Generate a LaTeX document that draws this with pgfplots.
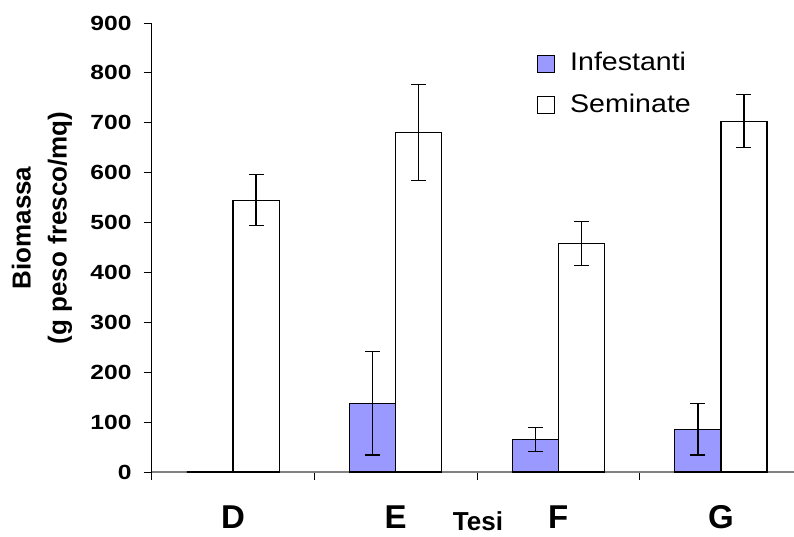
\documentclass[border=0pt]{standalone}
\usepackage{pgfplots}
\pgfplotsset{compat=1.18}
\usepackage{fontspec}
\setmainfont{Liberation Sans}
\newfontfamily\tickfont[FakeStretch=1.2]{Liberation Sans}
\newfontfamily\legfont[FakeStretch=1.12]{Liberation Sans}
\definecolor{infcol}{HTML}{9999FF}
\definecolor{axgray}{HTML}{808080}
\begin{document}
\begin{tikzpicture}
\begin{axis}[
  at={(0pt,0pt)}, anchor=south west,
  scale only axis, width=642.3pt, height=449pt,
  xmin=-0.5, xmax=3.449, ymin=0, ymax=900,
  axis x line*=bottom, axis y line*=left,
  axis line style={-},
  x axis line style={draw=axgray, line width=1.2pt},
  y axis line style={draw=black, line width=0.8pt},
  tick align=outside,
  major tick length=8pt,
  tick style={black, line width=0.8pt},
  ytick={0,100,...,900},
  /pgf/number format/assume math mode=true,
  y tick label style={font=\tickfont\bfseries\fontsize{20.5}{20.5}\selectfont, inner sep=2pt, xshift=-10pt},
  xtick={-0.5,0.5,1.5,2.5},
  xticklabels={,,,},
  extra x ticks={0,1,2,3},
  extra x tick labels={D,E,F,G},
  extra x tick style={tick style={draw=none},
     xticklabel style={font=\bfseries\fontsize{33}{33}\selectfont, anchor=base, inner sep=0pt, yshift=-48.5pt}},
  ylabel={Biomassa\\(g peso fresco/mq)},
  ylabel style={at={(axis description cs:-0.1708,0.5434)}, anchor=center,
     align=center, font=\bfseries\fontsize{26}{36}\selectfont},
  xlabel={Tesi},
  xlabel style={at={(axis description cs:0.508,-0.131)}, anchor=base, inner sep=0pt,
     font=\bfseries\fontsize{26}{26}\selectfont},
  legend image code/.code={\draw[#1, line width=0.9pt] (0pt,-10pt) rectangle (17pt,7pt);},
  legend style={at={(axis description cs:0.6,0.935)}, anchor=north west,
     draw=none, fill=none, inner sep=0pt, row sep=21pt,
     font=\legfont\fontsize{25.5}{25.5}\selectfont,
     nodes={inner sep=0pt},
     /tikz/every odd column/.append style={column sep=15pt}},
  legend cell align=left,
  error bars/y dir=both, error bars/y explicit,
  error bars/error bar style={black, line width=1.2pt},
  error bars/error mark options={rotate=90, mark size=7.5pt, line width=1.2pt, black},
]
\addplot[ybar, bar width=0.283, bar shift=0pt, fill=infcol, draw=black, line width=1.1pt]
  coordinates {(-0.1415,0) +- (0,0) (0.8585,138) +- (0,104) (1.8585,65) +- (0,24) (2.8585,86) +- (0,52)};
\addlegendentry{Infestanti}
\addplot[ybar, bar width=0.283, bar shift=0pt, fill=white, draw=black, line width=1.1pt]
  coordinates {(0.1415,545) +- (0,51) (1.1415,680) +- (0,96) (2.1415,458) +- (0,44) (3.1415,703) +- (0,53)};
\addlegendentry{Seminate}
\end{axis}
\pgfresetboundingbox
\path[use as bounding box] (-151.7pt,-64pt) rectangle (642.3pt,472pt);
\end{tikzpicture}
\end{document}
